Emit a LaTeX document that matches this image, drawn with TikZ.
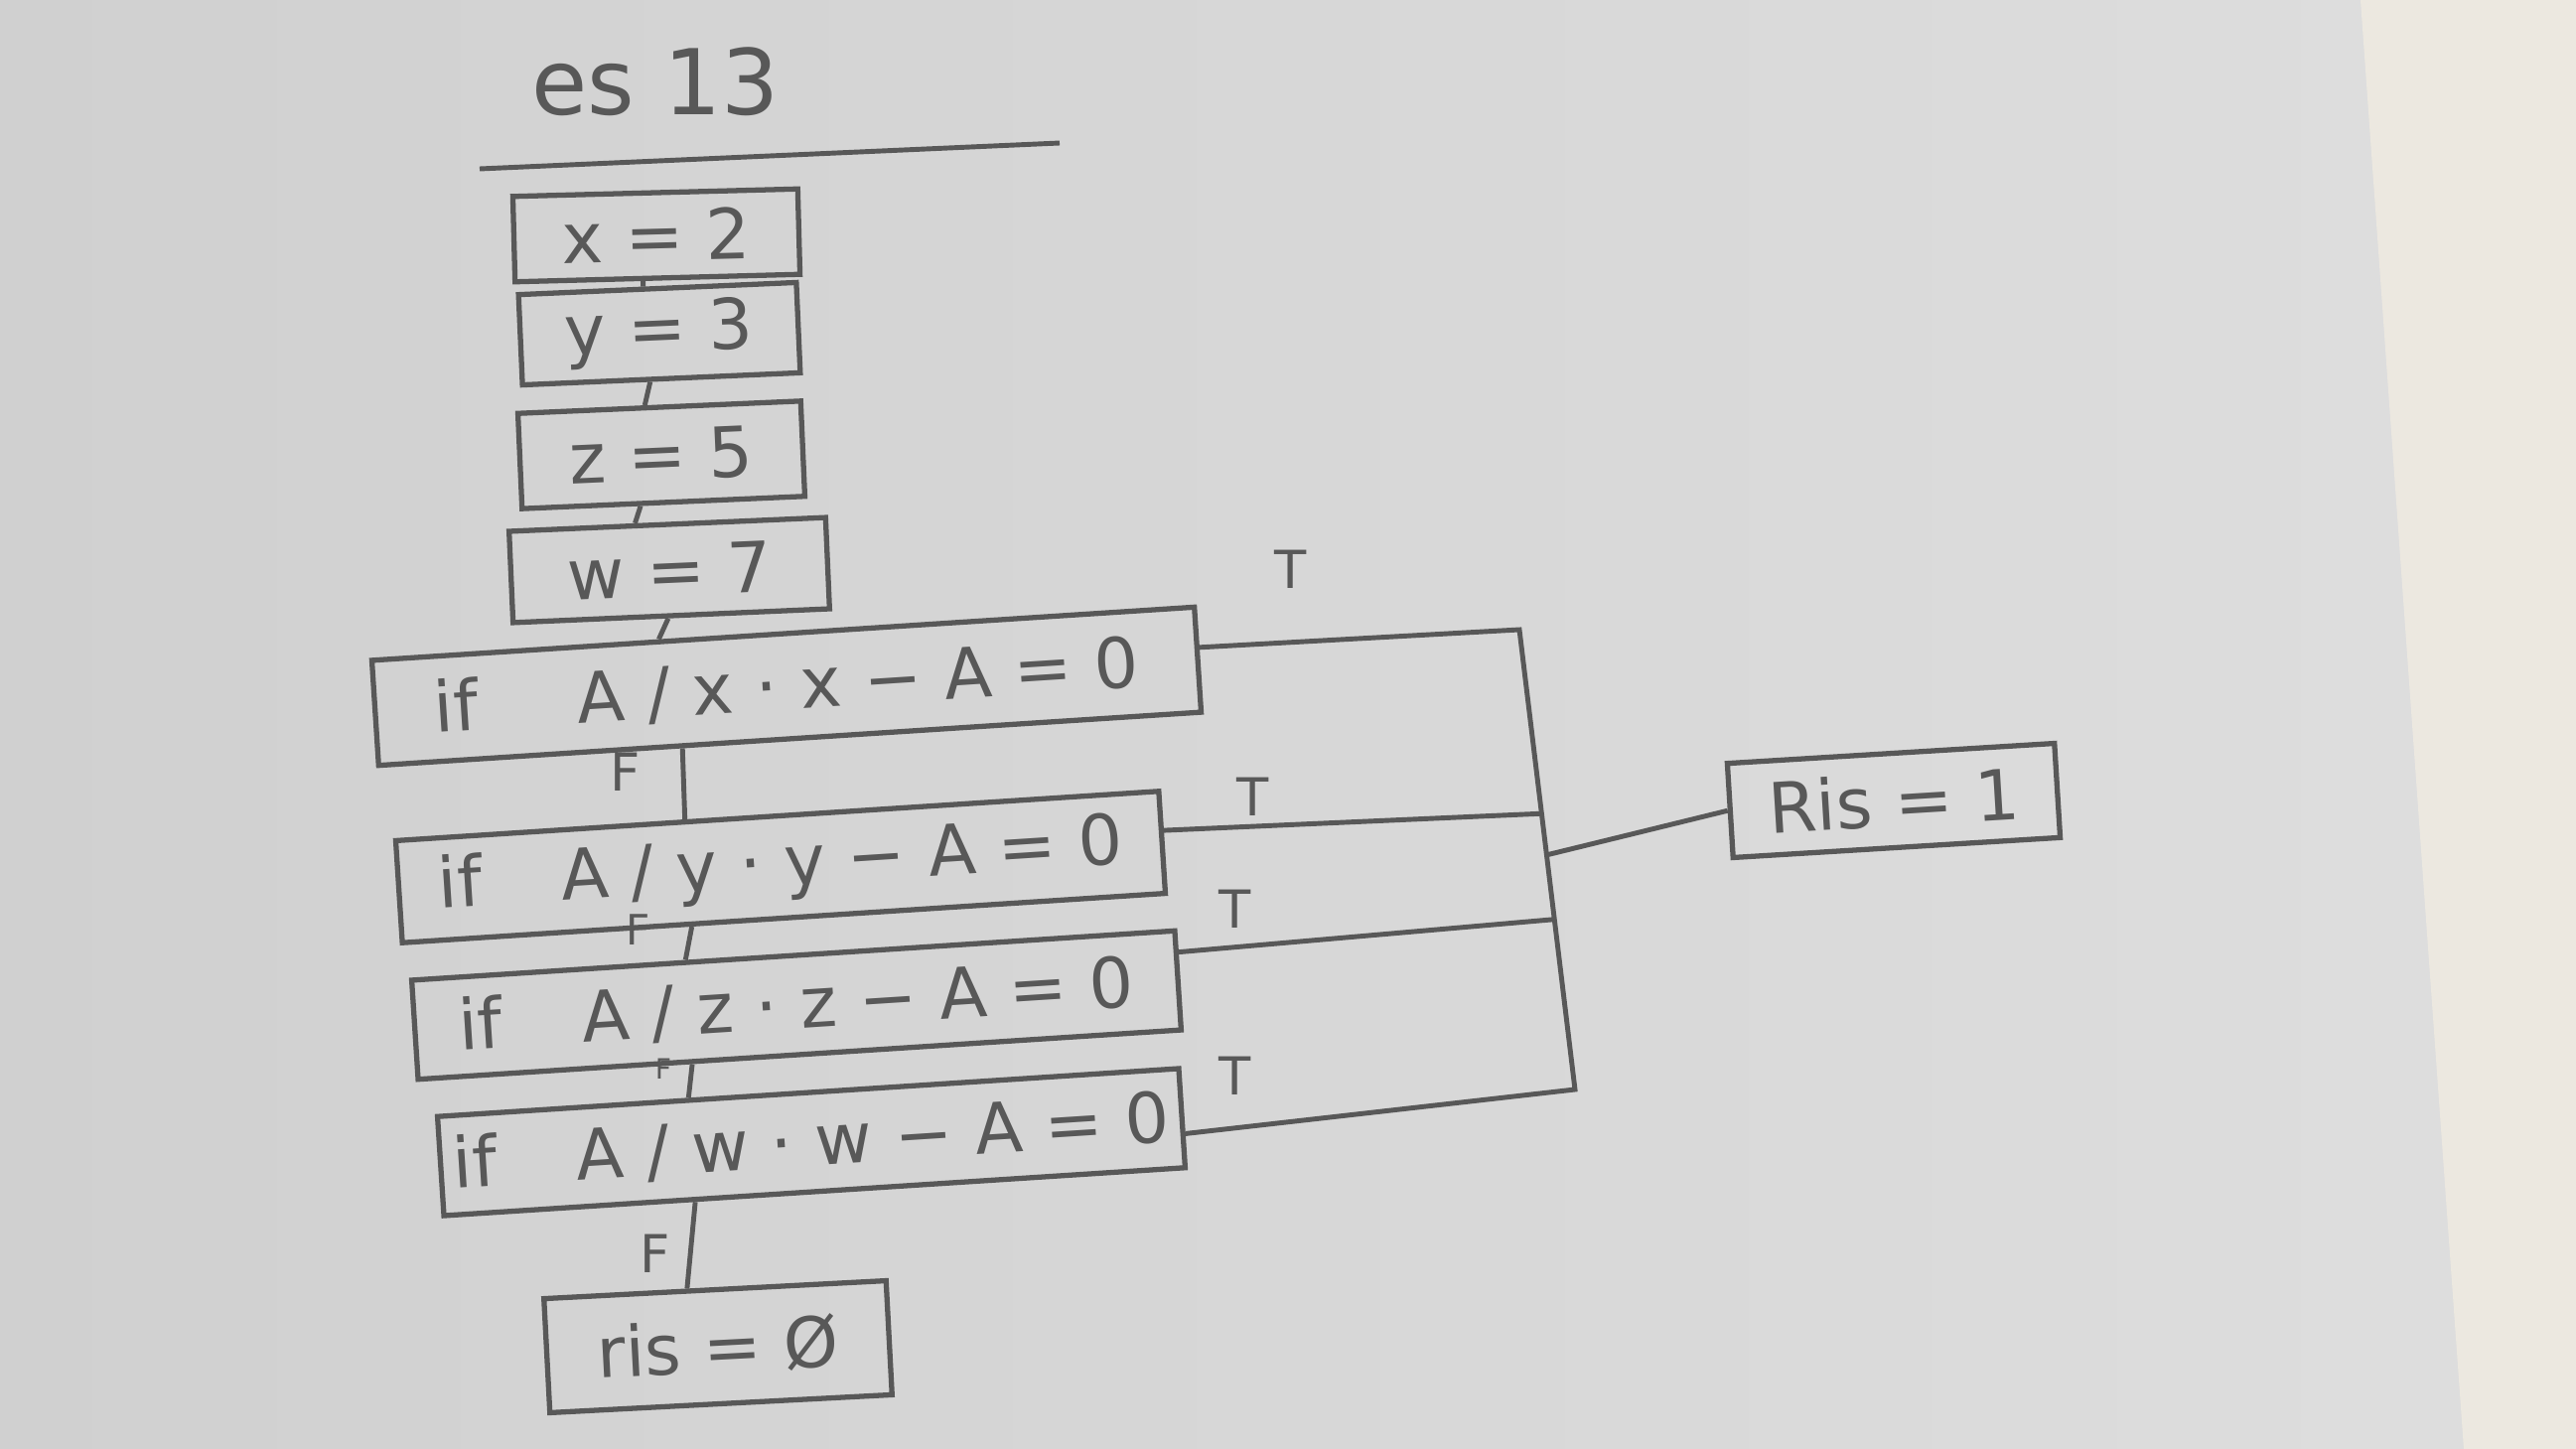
\documentclass[tikz,border=0pt]{standalone}
\usepackage{fontspec}
\setmainfont{DejaVu Sans}
\usetikzlibrary{calc}
\definecolor{paperL}{RGB}{208,208,208}
\definecolor{paperR}{RGB}{222,222,222}
\definecolor{wood}{RGB}{236,232,224}
\definecolor{pencil}{RGB}{88,88,88}
\begin{document}
\begin{tikzpicture}[x=0.1mm,y=-0.1mm,
  box/.style={draw=pencil, line width=1.5pt, text=pencil, inner sep=0pt,
    font=\fontsize{20}{24}\selectfont},
  wire/.style={draw=pencil, line width=1.4pt},
  lbl/.style={text=pencil, inner sep=0pt, font=\fontsize{15}{18}\selectfont},
  mid/.style={text=pencil, inner sep=0pt, font=\fontsize{12}{14}\selectfont},
  small/.style={text=pencil, inner sep=0pt, font=\fontsize{8}{10}\selectfont}]
% background
\shade[left color=paperL, right color=paperR] (0,0) rectangle (2594,1459);
\fill[wood] (2377,0) -- (2594,0) -- (2594,1459) -- (2481,1459) -- cycle;
\useasboundingbox (0,0) rectangle (2594,1459);
% title
\node[text=pencil, font=\fontsize{26}{30}\selectfont] (title) at (660,82) {es 13};
\coordinate (ul1) at (483,170);
\coordinate (ul2) at (1067,144);
\draw[wire] (ul1) -- (ul2);
% boxes
\node[box, minimum width=28.7mm, minimum height=8.6mm, rotate=1.5] (x) at (661,237) {x = 2};
\node[box, minimum width=28.0mm, minimum height=9.1mm, rotate=2.5] (y) at (664,336) {y = 3};
\node[box, minimum width=28.5mm, minimum height=9.6mm, rotate=2.5] (z) at (666,458) {z = 5};
\node[box, minimum width=31.9mm, minimum height=9.2mm, rotate=2.5] (w) at (674,574) {w = 7};
\node[box, minimum width=83.0mm, minimum height=10.6mm, rotate=3.7] (if1) at (792,691) {if\hspace{10mm}A / x · x − A = 0};
\node[box, minimum width=77.0mm, minimum height=10.3mm, rotate=3.7] (if2) at (786,873) {if\hspace{8mm}A / y · y − A = 0};
\node[box, minimum width=77.0mm, minimum height=10.0mm, rotate=3.7] (if3) at (802,1012) {if\hspace{8mm}A / z · z − A = 0};
\node[box, minimum width=74.8mm, minimum height=10.0mm, rotate=3.7] (if4) at (817,1150) {if\hspace{8mm}A / w · w − A = 0};
\node[box, minimum width=34.5mm, minimum height=11.5mm, rotate=3] (r0) at (723,1356) {ris = Ø};
\node[box, minimum width=33.0mm, minimum height=9.5mm, rotate=3.5] (r1) at (1907,806) {Ris = 1};
% vertical flow
\draw[wire] ($(x.south west)!0.45!(x.south east)$) -- ($(y.north west)!0.45!(y.north east)$);
\draw[wire] ($(y.south west)!0.46!(y.south east)$) -- ($(z.north west)!0.45!(z.north east)$);
\draw[wire] ($(z.south west)!0.42!(z.south east)$) -- ($(w.north west)!0.40!(w.north east)$);
\draw[wire] ($(w.south west)!0.49!(w.south east)$) -- ($(if1.north west)!0.35!(if1.north east)$);
\draw[wire] ($(if1.south west)!0.37!(if1.south east)$) -- ($(if2.north west)!0.38!(if2.north east)$);
\draw[wire] ($(if2.south west)!0.38!(if2.south east)$) -- ($(if3.north west)!0.36!(if3.north east)$);
\draw[wire] ($(if3.south west)!0.36!(if3.south east)$) -- ($(if4.north west)!0.34!(if4.north east)$);
\draw[wire] ($(if4.south west)!0.34!(if4.south east)$) -- ($(r0.north west)!0.42!(r0.north east)$);
% bus
\coordinate (bt) at (1530,634);
\coordinate (bb) at (1586,1097);
\draw[wire] ($(if1.north east)!0.39!(if1.south east)$) -- (bt) -- (bb) -- ($(if4.north east)!0.65!(if4.south east)$);
\draw[wire] ($(if2.north east)!0.39!(if2.south east)$) -- ($(bt)!0.40!(bb)$);
\draw[wire] ($(if3.north east)!0.23!(if3.south east)$) -- ($(bt)!0.63!(bb)$);
\draw[wire] ($(bt)!0.49!(bb)$) -- (r1.west);
% labels
\node[lbl] (t1) at (1300,573) {T};
\node[lbl] (t2) at (1262,802) {T};
\node[lbl] (t3) at (1244,915) {T};
\node[lbl] (t4) at (1244,1083) {T};
\node[lbl] (f1) at (630,777) {F};
\node[mid] (f2) at (643,936) {F};
\node[small] (f3) at (668,1076) {F};
\node[lbl] (f4) at (660,1262) {F};
\end{tikzpicture}
\end{document}
